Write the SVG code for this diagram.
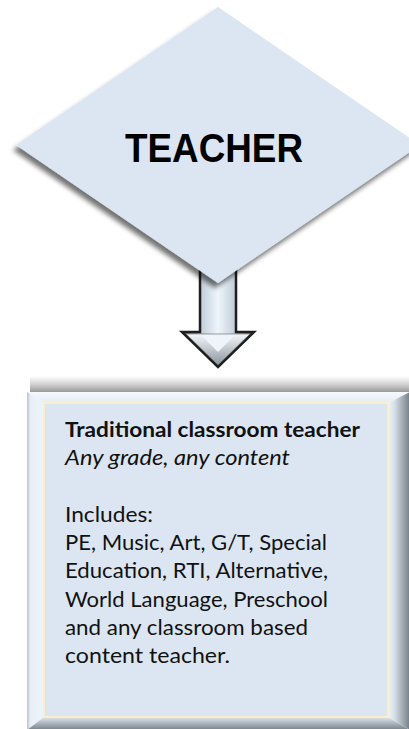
<svg xmlns="http://www.w3.org/2000/svg" width="409" height="729" viewBox="0 0 409 729">
<defs>
<style>
.t{font-family:"Lato","Liberation Sans",Arial,sans-serif;font-size:21px;fill:#111}
.b{font-weight:bold}
.i{font-style:italic}
</style>
<filter id="dsh" x="-10%" y="-10%" width="120%" height="130%">
<feGaussianBlur in="SourceAlpha" stdDeviation="2.5"/>
<feOffset dx="-3" dy="5" result="o"/>
<feComponentTransfer><feFuncA type="linear" slope="0.55"/></feComponentTransfer>
<feMerge><feMergeNode/><feMergeNode in="SourceGraphic"/></feMerge>
</filter>
<linearGradient id="shaft" x1="0" y1="0" x2="1" y2="0">
<stop offset="0" stop-color="#7f8992"/>
<stop offset="0.3" stop-color="#c9d4de"/>
<stop offset="0.5" stop-color="#eef5fc"/>
<stop offset="0.7" stop-color="#c9d4de"/>
<stop offset="1" stop-color="#7f8992"/>
</linearGradient>
<linearGradient id="head" x1="0" y1="0" x2="0" y2="1">
<stop offset="0" stop-color="#f4f7fa"/>
<stop offset="1" stop-color="#8c959e"/>
</linearGradient>
<linearGradient id="topsh" x1="0" y1="0" x2="0" y2="1">
<stop offset="0" stop-color="#999" stop-opacity="0"/>
<stop offset="1" stop-color="#777" stop-opacity="0.75"/>
</linearGradient>
<linearGradient id="bt" x1="0" y1="0" x2="0" y2="1">
<stop offset="0" stop-color="#f6f9fc"/>
<stop offset="1" stop-color="#e4ecf5"/>
</linearGradient>
<linearGradient id="bl" x1="0" y1="0" x2="1" y2="0">
<stop offset="0" stop-color="#b9c1ca"/>
<stop offset="0.2" stop-color="#e8eff7"/>
<stop offset="1" stop-color="#eef4fa"/>
</linearGradient>
<linearGradient id="br" x1="0" y1="0" x2="1" y2="0">
<stop offset="0" stop-color="#eef4fa"/>
<stop offset="0.3" stop-color="#d6dee7"/>
<stop offset="1" stop-color="#737d87"/>
</linearGradient>
<linearGradient id="bb" x1="0" y1="0" x2="0" y2="1">
<stop offset="0" stop-color="#dfe7ef"/>
<stop offset="1" stop-color="#76808a"/>
</linearGradient>
</defs>
<rect width="409" height="729" fill="#ffffff"/>
<g id="connectors">
<path d="M200,268 L236,268 L236,332 L254,332 L218,367 L182,332 L200,332 Z" fill="url(#shaft)" stroke="#1e1e1e" stroke-width="2.5" stroke-linejoin="miter"/>
<path d="M186,334 L250,334 L218,365 Z" fill="url(#head)"/>
<path d="M200,334 L236,334 L218,352 Z" fill="#eef4fa"/>
<path d="M186,334 L250,334 L218,365 Z" fill="none" stroke="#1e1e1e" stroke-width="0.8" opacity="0.5"/>
</g>
<g id="teacher">
<polygon points="218,7 420,145 218,283 16,145" fill="#dce6f2" filter="url(#dsh)"/>
<text x="214" y="162" text-anchor="middle" font-family="'Liberation Sans',Arial,sans-serif" font-weight="bold" font-size="40" textLength="178" lengthAdjust="spacingAndGlyphs" fill="#000">TEACHER</text>
</g>
<g id="traditional">
<rect x="30" y="376" width="380" height="16" fill="url(#topsh)"/>
<polygon points="27,392 410,392 388,403 44,403" fill="url(#bt)"/>
<polygon points="27,392 44,403 44,717 27,730" fill="url(#bl)"/>
<polygon points="410,392 410,730 388,717 388,403" fill="url(#br)"/>
<polygon points="27,730 44,717 388,717 410,730" fill="url(#bb)"/>
<rect x="44" y="403" width="344" height="314" fill="#dce6f2" stroke="#fbefc6" stroke-width="2"/>
<text class="t b" x="65" y="437" textLength="295" lengthAdjust="spacingAndGlyphs">Traditional classroom teacher</text>
<text class="t i" x="65" y="465" textLength="225" lengthAdjust="spacingAndGlyphs">Any grade, any content</text>
<text class="t" x="65" y="522" textLength="88" lengthAdjust="spacingAndGlyphs">Includes:</text>
<text class="t" x="65" y="550" textLength="262" lengthAdjust="spacingAndGlyphs">PE, Music, Art, G/T, Special</text>
<text class="t" x="65" y="578" textLength="263" lengthAdjust="spacingAndGlyphs">Education, RTI, Alternative,</text>
<text class="t" x="65" y="607" textLength="263" lengthAdjust="spacingAndGlyphs">World Language, Preschool</text>
<text class="t" x="65" y="635" textLength="243" lengthAdjust="spacingAndGlyphs">and any classroom based</text>
<text class="t" x="65" y="663" textLength="165" lengthAdjust="spacingAndGlyphs">content teacher.</text>
</g>
</svg>
